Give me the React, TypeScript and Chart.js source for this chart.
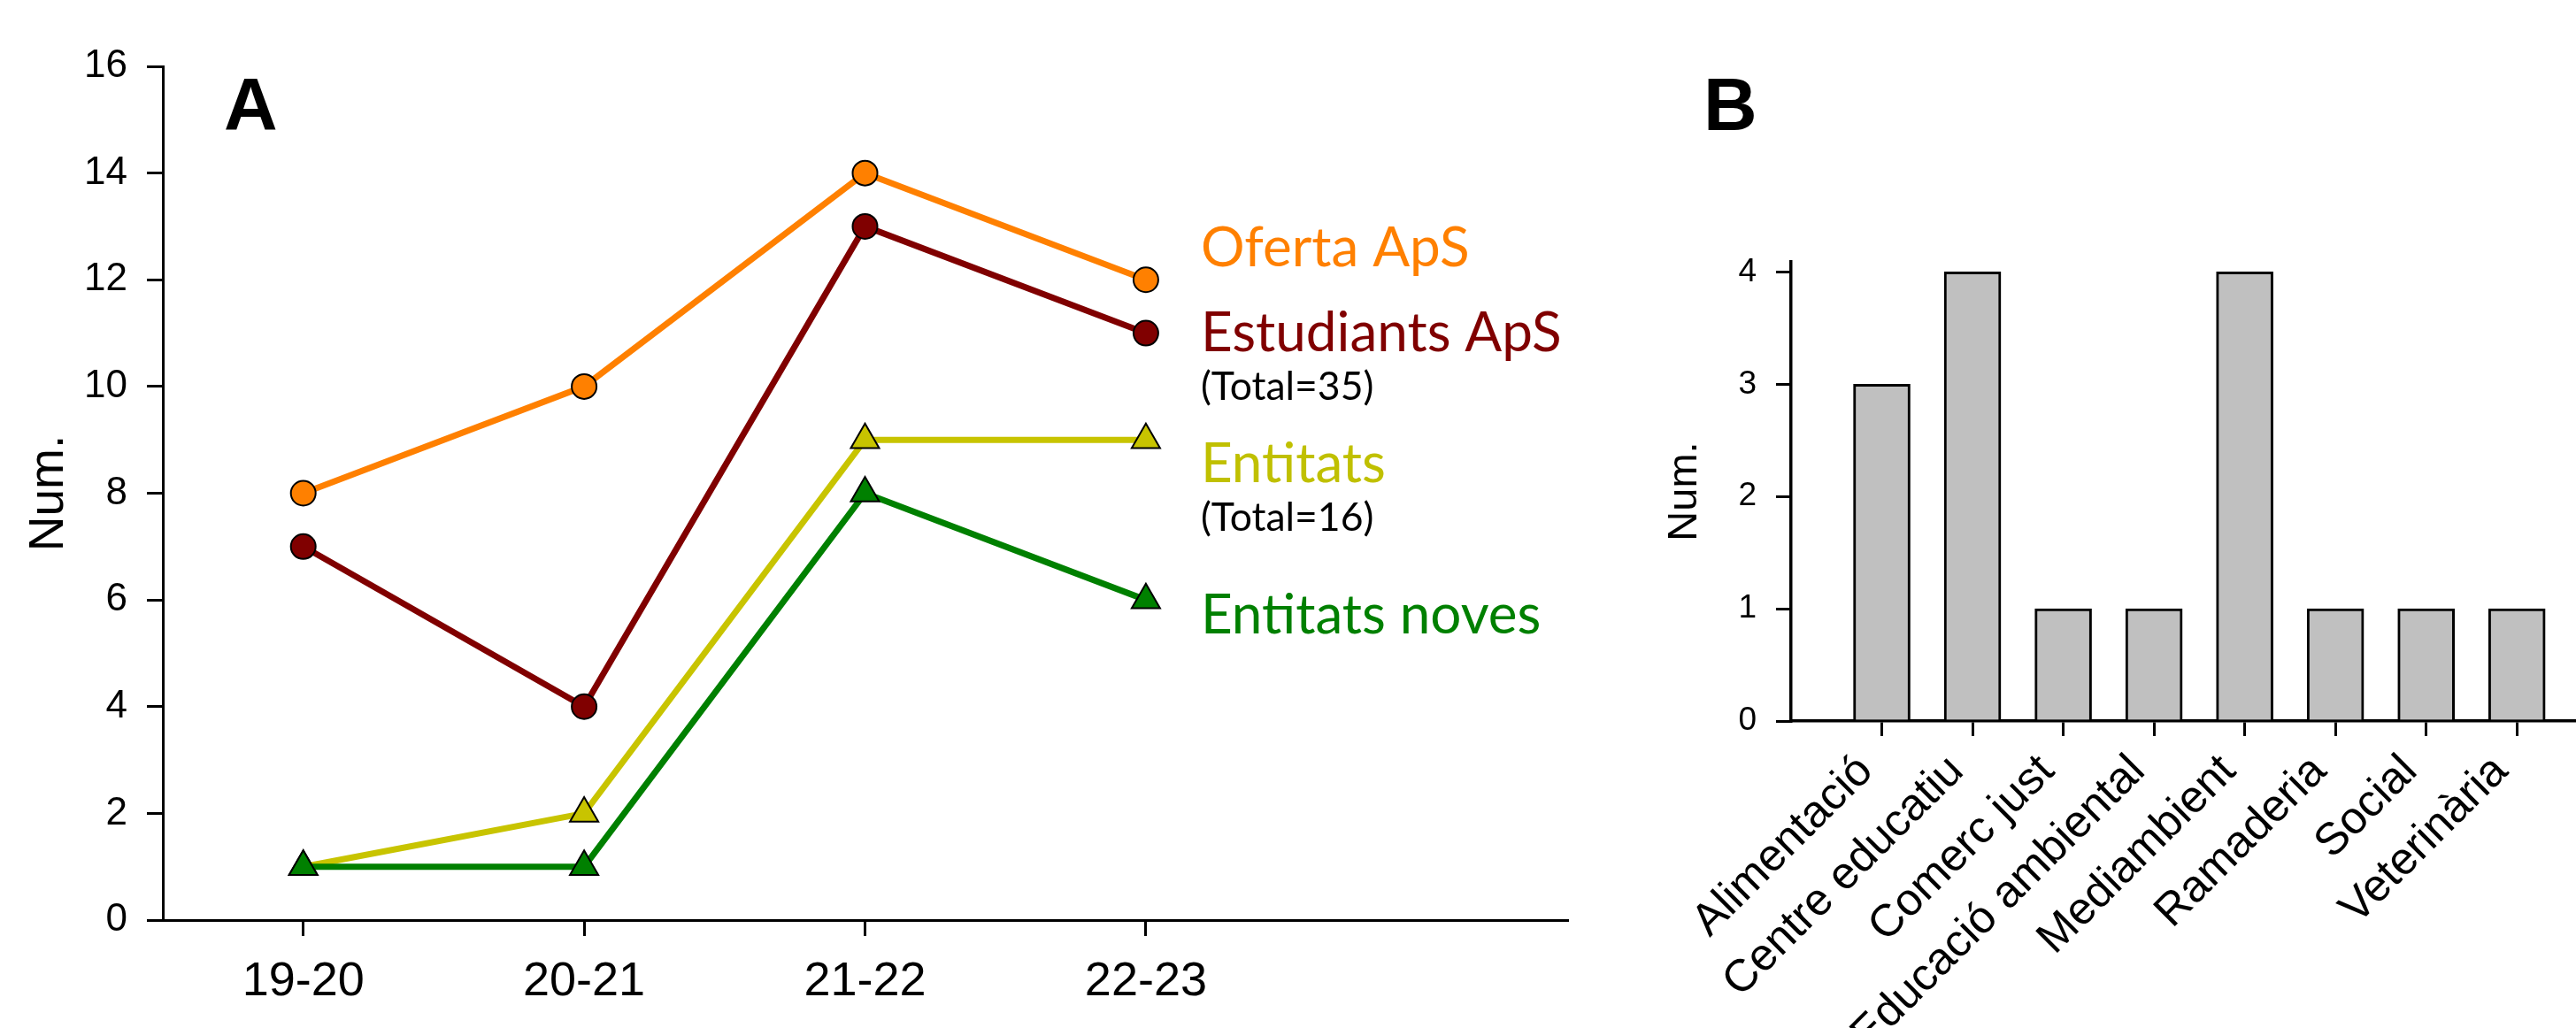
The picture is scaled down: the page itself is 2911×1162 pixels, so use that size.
import React, { useEffect, useRef } from 'react';
import { Chart, registerables } from 'chart.js';

Chart.register(...registerables);

// ---------------- Data ----------------
const years = ['19-20', '20-21', '21-22', '22-23'];
const ofertaApS = [8, 10, 14, 12];
const estudiantsApS = [7, 4, 13, 11];
const entitats = [1, 2, 9, 9];
const entitatsNoves = [1, 1, 8, 6];
const yMinA = 0;
const yMaxA = 16;
const yStepA = 2;

const sectors = [
  'Alimentació',
  'Centre educatiu',
  'Comerc just',
  'Educació ambiental',
  'Mediambient',
  'Ramaderia',
  'Social',
  'Veterinària',
];
const sectorCounts = [3, 4, 1, 1, 4, 1, 1, 1];
const yMinB = 0;
const yMaxB = 4;
const yStepB = 1;

const legendTexts = [
  { text: 'Oferta ApS', color: '#FF8000', small: false },
  { text: 'Estudiants ApS', color: '#800000', small: false },
  { text: '(Total=35)', color: '#000000', small: true },
  { text: 'Entitats', color: '#C0C000', small: false },
  { text: '(Total=16)', color: '#000000', small: true },
  { text: 'Entitats noves', color: '#008000', small: false },
];

// ---------------- Styles ----------------
const ORANGE = '#FF8000';
const MAROON = '#800000';
const OLIVE = '#C8C400';
const GREEN = '#008000';
const ARIAL = "'Liberation Sans', Arial, sans-serif";
const CALIBRI = "Lato, 'Open Sans', sans-serif";
const H = 1162;
const A_W = 1800;
const B_W = 1200;
const B_LEFT = 1800;

const legendBaselines = [301, 397, 452, 545, 600, 716];

const textPluginA = {
  id: 'textA',
  afterDraw(chart: any) {
    const { ctx, scales } = chart;
    const x0 = scales.x.getPixelForValue(years.length - 1) + 62;
    ctx.save();
    ctx.textBaseline = 'alphabetic';
    ctx.textAlign = 'left';
    legendTexts.forEach((t, i) => {
      ctx.font = `${t.small ? 44.5 : 62}px ${CALIBRI}`;
      ctx.fillStyle = t.color;
      ctx.fillText(t.text, x0, legendBaselines[i]);
    });
    ctx.font = `bold 84px ${ARIAL}`;
    ctx.fillStyle = '#000';
    ctx.fillText('A', 253, 147);
    ctx.restore();
  },
};

const textPluginB = {
  id: 'textB',
  afterDraw(chart: any) {
    const { ctx } = chart;
    ctx.save();
    ctx.textBaseline = 'alphabetic';
    ctx.textAlign = 'left';
    ctx.font = `bold 84px ${ARIAL}`;
    ctx.fillStyle = '#000';
    ctx.fillText('B', 125, 147);
    ctx.restore();
  },
};

function lineDataset(label: string, data: number[], color: string, style: string, radius: number, order: number) {
  return {
    label,
    data,
    borderColor: color,
    backgroundColor: color,
    borderWidth: 7,
    pointStyle: style,
    pointRadius: radius,
    pointHoverRadius: radius,
    pointBackgroundColor: color,
    pointBorderColor: '#000',
    pointBorderWidth: 2,
    tension: 0,
    order,
  };
}

export default function App() {
  const refA = useRef<HTMLCanvasElement>(null);
  const refB = useRef<HTMLCanvasElement>(null);

  useEffect(() => {
    const chartA = new Chart(refA.current as HTMLCanvasElement, {
      type: 'line',
      data: {
        labels: [...years, ''],
        datasets: [
          lineDataset('Oferta ApS', ofertaApS, ORANGE, 'circle', 14, 3),
          lineDataset('Estudiants ApS', estudiantsApS, MAROON, 'circle', 14, 2),
          lineDataset('Entitats', entitats, OLIVE, 'triangle', 18.5, 1),
          lineDataset('Entitats noves', entitatsNoves, GREEN, 'triangle', 18.5, 0),
        ] as any,
      },
      options: {
        responsive: false,
        animation: false,
        devicePixelRatio: 1,
        layout: { padding: { left: 0, top: 75, right: 29, bottom: 0 } },
        plugins: { legend: { display: false }, tooltip: { enabled: false } },
        scales: {
          x: {
            type: 'category',
            offset: true,
            grid: {
              display: true,
              drawOnChartArea: false,
              drawTicks: true,
              tickLength: 18,
              lineWidth: 3,
              offset: false,
              color: (c: any) => (c.index < years.length ? '#000' : 'rgba(0,0,0,0)'),
              tickColor: (c: any) => (c.index < years.length ? '#000' : 'rgba(0,0,0,0)'),
            },
            border: { display: true, color: '#000', width: 3 },
            ticks: {
              color: '#000',
              font: { family: ARIAL, size: 54 },
              padding: 20,
              autoSkip: false,
              maxRotation: 0,
              minRotation: 0,
            },
            afterFit: (s: any) => {
              s.height = H - 1040;
            },
          },
          y: {
            min: yMinA,
            max: yMaxA,
            ticks: { stepSize: yStepA, color: '#000', font: { family: ARIAL, size: 44 }, padding: 22 },
            grid: { drawOnChartArea: false, tickLength: 18, lineWidth: 3, color: '#000' },
            border: { display: true, color: '#000', width: 3 },
            title: {
              display: true,
              text: 'Num.',
              color: '#000',
              font: { family: ARIAL, size: 55 },
              padding: { top: 23, bottom: 0 },
            },
            afterFit: (s: any) => {
              s.width = 184;
            },
          },
        },
      } as any,
      plugins: [textPluginA],
    });

    const chartB = new Chart(refB.current as HTMLCanvasElement, {
      type: 'bar',
      data: {
        labels: ['', ...sectors, ''],
        datasets: [
          {
            label: 'Entitats',
            data: [null, ...sectorCounts, null],
            backgroundColor: '#C0C0C0',
            borderColor: '#000',
            borderWidth: 3,
            barThickness: 64,
          },
        ] as any,
      },
      options: {
        responsive: false,
        animation: false,
        devicePixelRatio: 1,
        layout: { padding: { left: 0, top: 296, right: 26, bottom: 0 } },
        plugins: { legend: { display: false }, tooltip: { enabled: false } },
        scales: {
          x: {
            type: 'category',
            offset: false,
            grid: {
              display: true,
              drawOnChartArea: false,
              drawTicks: true,
              tickLength: 17,
              lineWidth: 3,
              offset: false,
              color: (c: any) => (c.index > 0 && c.index <= sectors.length ? '#000' : 'rgba(0,0,0,0)'),
              tickColor: (c: any) => (c.index > 0 && c.index <= sectors.length ? '#000' : 'rgba(0,0,0,0)'),
            },
            border: { display: true, color: '#000', width: 3.5 },
            ticks: {
              color: '#000',
              font: { family: ARIAL, size: 51 },
              padding: 10,
              labelOffset: -18,
              autoSkip: false,
              minRotation: 45,
              maxRotation: 45,
            },
            afterFit: (s: any) => {
              s.height = H - 815;
            },
          },
          y: {
            min: yMinB,
            max: yMaxB + 0.09,
            ticks: {
              stepSize: yStepB,
              includeBounds: false,
              color: '#000',
              font: { family: ARIAL, size: 37 },
              padding: 22,
            },
            grid: { drawOnChartArea: false, tickLength: 17, lineWidth: 3, color: '#000' },
            border: { display: true, color: '#000', width: 3.5 },
            title: {
              display: true,
              text: 'Num.',
              color: '#000',
              font: { family: ARIAL, size: 47 },
              padding: { top: 76, bottom: 0 },
            },
            afterFit: (s: any) => {
              s.width = 224;
            },
          },
        },
      } as any,
      plugins: [textPluginB],
    });

    return () => {
      chartA.destroy();
      chartB.destroy();
    };
  }, []);

  return (
    <div
      style={{
        position: 'absolute',
        left: 0,
        top: 0,
        width: 2911,
        height: H,
        overflow: 'hidden',
        background: '#fff',
      }}
    >
      <canvas
        ref={refA}
        width={A_W}
        height={H}
        style={{ position: 'absolute', left: 0, top: 0, width: A_W, height: H }}
      />
      <canvas
        ref={refB}
        width={B_W}
        height={H}
        style={{ position: 'absolute', left: B_LEFT, top: 0, width: B_W, height: H }}
      />
    </div>
  );
}
